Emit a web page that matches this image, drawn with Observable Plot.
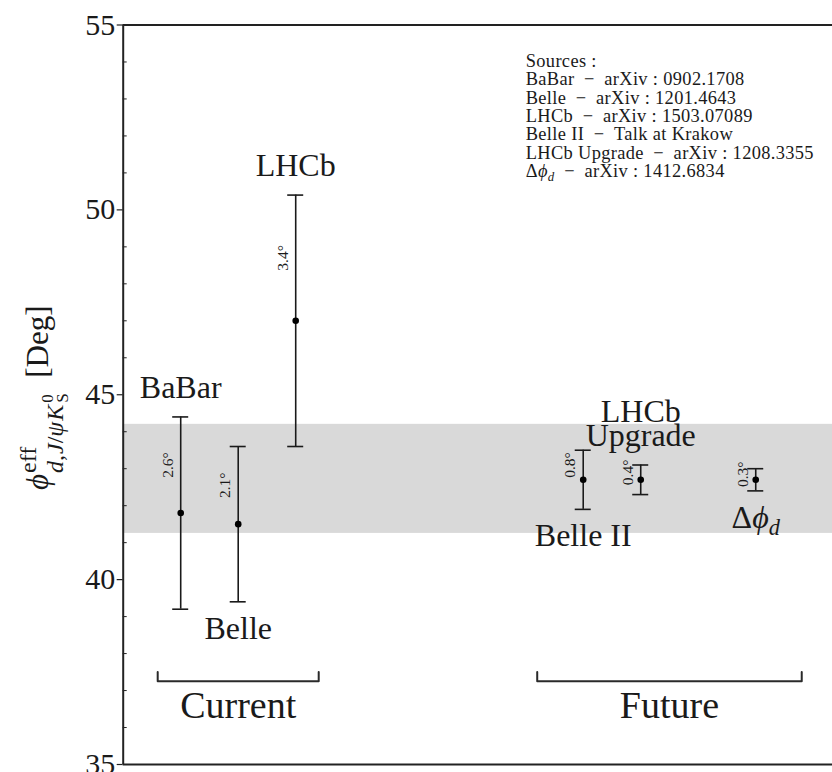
<!DOCTYPE html>
<html>
<head>
<meta charset="utf-8">
<script src="https://cdn.jsdelivr.net/npm/d3@7"></script>
<script src="https://cdn.jsdelivr.net/npm/@observablehq/plot@0.6"></script>
<style>
  html, body { margin: 0; padding: 0; background: #fff; overflow: hidden; }
</style>
</head>
<body>
<script>
// Measurements of the effective mixing phase phi_d (degrees)
const experiments = ["BaBar", "Belle", "LHCb", "Belle II", "LHCb\nUpgrade", "Δϕ_d"];
const slots       = [1, 2, 3, 8, 9, 11];
const phiEff      = [41.8, 41.5, 47.0, 42.7, 42.7, 42.7];
const sigma       = [2.6, 2.1, 3.4, 0.8, 0.4, 0.3];
const labelAbove  = [true, false, true, false, true, false];

// Shaded reference range
const averageBand = [41.25, 44.2];

// Grouping brackets
const groups    = ["Current", "Future"];
const groupFrom = [0.6, 7.2];
const groupTo   = [3.4, 11.8];

// Axis ticks
const yMajorTicks = [35, 40, 45, 50, 55];
const yMinorTicks = [36, 37, 38, 39, 41, 42, 43, 44, 46, 47, 48, 49, 51, 52, 53, 54];

// Reference list
const sourceNames = ["BaBar", "Belle", "LHCb", "Belle II", "LHCb Upgrade", "Δϕ_d"];
const sourceRefs  = ["arXiv : 0902.1708", "arXiv : 1201.4643", "arXiv : 1503.07089",
                     "Talk at Krakow", "arXiv : 1208.3355", "arXiv : 1412.6834"];

const xDomain = [0, 12.335];
const yDomain = [35, 55];
const ink = "#1a1a1a";
const serif = "'Liberation Serif', 'DejaVu Serif', serif";

const rows = experiments.map((name, i) => ({
  name, slot: slots[i], v: phiEff[i], e: sigma[i], above: labelAbove[i],
  err: `${sigma[i].toFixed(1)}°`
}));
const caps = rows.flatMap(d => [{slot: d.slot, y: d.v - d.e}, {slot: d.slot, y: d.v + d.e}]);

const bracketY = 37.25, bracketTick = 0.25;
const bracketPts = groups.flatMap((g, i) => [
  {g, x: groupFrom[i], y: bracketY + bracketTick},
  {g, x: groupFrom[i], y: bracketY},
  {g, x: groupTo[i], y: bracketY},
  {g, x: groupTo[i], y: bracketY + bracketTick}
]);
const groupLabels = groups.map((g, i) => ({g, x: (groupFrom[i] + groupTo[i]) / 2}));

const sourcesText = ["Sources :"].concat(
  sourceNames.map((n, i) => `${n}\u2002−\u2002${sourceRefs[i]}`)
).join("\n");

const yLabelText = "ϕ^eff_{d,J/ψK^0_S} [Deg]";

const svg = Plot.plot({
  width: 832,
  height: 772,
  marginLeft: 122.7,
  marginRight: 0,
  marginTop: 24.5,
  marginBottom: 8,
  x: {domain: xDomain, axis: null},
  y: {domain: yDomain, axis: null},
  style: {fontFamily: serif, fontSize: "30px", color: ink, background: "#fff", overflow: "visible"},
  marks: [
    Plot.rect([averageBand], {x1: () => xDomain[0], x2: () => xDomain[1], y1: d => d[0], y2: d => d[1], fill: "#d9d9d9"}),

    // frame (left, top, bottom)
    Plot.ruleY([yDomain[1], yDomain[0]], {stroke: "#222", strokeWidth: 2}),
    Plot.ruleX([xDomain[0]], {stroke: "#222", strokeWidth: 2}),

    // y axis
    Plot.axisY({ticks: yMajorTicks, tickSize: 6, tickPadding: 2, fontSize: 30, anchor: "left", label: null, stroke: "#222", strokeWidth: 1.2}),
    Plot.tickY(yMinorTicks, {y: d => d, insetRight: 705.3, stroke: "#222", strokeWidth: 1}),

    // error bars
    Plot.ruleX(rows, {x: "slot", y1: d => d.v - d.e, y2: d => d.v + d.e, stroke: ink, strokeWidth: 1.6}),
    Plot.ruleY(caps, {x1: "slot", x2: "slot", y: "y", insetLeft: -8, insetRight: -8, stroke: ink, strokeWidth: 1.6}),
    Plot.dot(rows, {x: "slot", y: "v", r: 3.3, fill: "#000", stroke: null}),

    // uncertainty labels
    Plot.text(rows, {x: "slot", y: d => d.v + d.e / 2, text: "err", rotate: -90, dx: -13,
      fontSize: 15.5, fill: ink, textAnchor: "middle", lineAnchor: "middle"}),

    // experiment names
    Plot.text(rows.filter(d => d.above), {x: "slot", y: d => d.v + d.e, text: "name", dy: -19,
      fontSize: 32, fill: ink, lineAnchor: "bottom", lineHeight: 0.76}),
    Plot.text(rows.filter(d => !d.above), {x: "slot", y: d => d.v - d.e, text: "name", dy: 14,
      fontSize: 32, fill: ink, lineAnchor: "top"}),

    // grouping brackets
    Plot.line(bracketPts, {x: "x", y: "y", z: "g", stroke: "#2a2a2a", strokeWidth: 2}),
    Plot.text(groupLabels, {x: "x", y: () => 36.6, text: "g", fontSize: 38, fill: ink, lineAnchor: "middle"}),

    // sources
    Plot.text([sourcesText], {x: () => 7, y: () => 54.22, text: d => d, textAnchor: "start",
      lineAnchor: "top", lineHeight: 1.0, fontSize: 18.4, fill: ink}),

    // y label
    Plot.text([yLabelText], {frameAnchor: "left", text: d => d, rotate: -90, dx: -85, dy: 3,
      fontSize: 31, fill: ink, textAnchor: "middle", lineAnchor: "middle"})
  ]
});

document.body.appendChild(svg);

const NS = "http://www.w3.org/2000/svg";
function tspan(parent, text, attrs = {}) {
  const t = document.createElementNS(NS, "tspan");
  for (const [k, v] of Object.entries(attrs)) t.setAttribute(k, v);
  t.textContent = text;
  parent.appendChild(t);
  return t;
}

// slightly wider setting for the reference list
svg.querySelectorAll("text").forEach(el => {
  if (el.textContent.startsWith("Sources")) el.setAttribute("letter-spacing", "0.35");
});

// Δϕ_d : italic phi with subscript d
svg.querySelectorAll("text, tspan").forEach(el => {
  for (const node of Array.from(el.childNodes)) {
    if (node.nodeType !== 3 || !node.nodeValue.includes("ϕ_d")) continue;
    const fs = parseFloat(getComputedStyle(el).fontSize);
    const [before, after] = node.nodeValue.split("ϕ_d");
    const holder = document.createElementNS(NS, "tspan");
    el.replaceChild(holder, node);
    if (before) holder.appendChild(document.createTextNode(before));
    tspan(holder, "ϕ", {"font-style": "italic"});
    const sh = (0.22 * fs).toFixed(2);
    tspan(holder, "d", {"font-style": "italic", "font-size": (0.7 * fs).toFixed(1), dy: sh});
    if (after) tspan(holder, after, {dy: -sh});
  }
});

// y-axis label with super/subscripts
svg.querySelectorAll("text").forEach(el => {
  if (el.textContent !== yLabelText) return;
  el.textContent = "";
  const s1 = 24, s2 = 17, sup = 12, sub = 15;
  tspan(el, "ϕ", {"font-style": "italic"});
  const eff = tspan(el, "eff", {"font-size": s1, dy: -sup, dx: 1});
  const effLen = eff.getComputedTextLength();
  tspan(el, "d", {"font-style": "italic", "font-size": s1, dx: -effLen, dy: sup + sub});
  tspan(el, ",", {"font-size": s1});
  tspan(el, "J", {"font-style": "italic", "font-size": s1, dx: 1});
  tspan(el, "/", {"font-size": s1});
  tspan(el, "ψ", {"font-style": "italic", "font-size": s1});
  tspan(el, "K", {"font-style": "italic", "font-size": s1, dx: 1});
  const zero = tspan(el, "0", {"font-size": s2, dy: -10, dx: 2});
  const zLen = zero.getComputedTextLength();
  const sS = tspan(el, "S", {"font-size": s2, dx: -zLen, dy: 10 + 5});
  const sLen = sS.getComputedTextLength();
  tspan(el, "\u2002[Deg]", {dy: -(sub + 5), dx: Math.max(0, zLen - sLen)});
});
</script>
</body>
</html>
